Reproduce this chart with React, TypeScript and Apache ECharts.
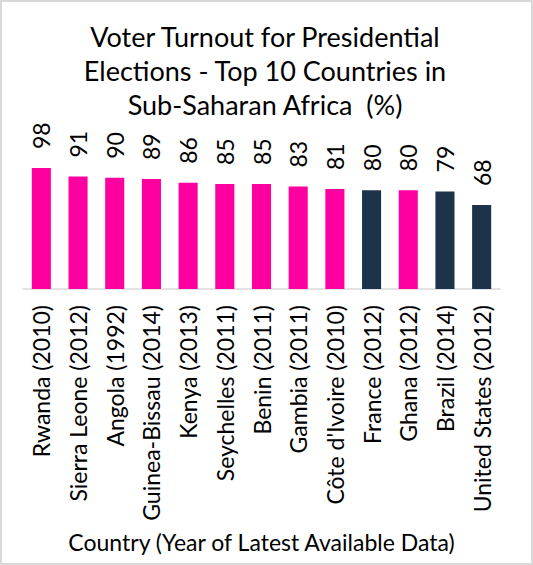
import React, { useEffect, useRef } from "react";
import * as echarts from "echarts";

const categories = [
  "Rwanda (2010)",
  "Sierra Leone (2012)",
  "Angola (1992)",
  "Guinea-Bissau (2014)",
  "Kenya (2013)",
  "Seychelles (2011)",
  "Benin (2011)",
  "Gambia (2011)",
  "Côte d'Ivoire (2010)",
  "France (2012)",
  "Ghana (2012)",
  "Brazil (2014)",
  "United States (2012)",
];
const turnout = [98, 91, 90, 89, 86, 85, 85, 83, 81, 80, 80, 79, 68];
const nonAfrican = ["France (2012)", "Brazil (2014)", "United States (2012)"];

const titleText = "Voter Turnout for Presidential\nElections - Top 10 Countries in\nSub-Saharan Africa  (%)";
const axisName = "Country (Year of Latest Available Data)";

const FONT = "Lato";

export default function App() {
  const ref = useRef<HTMLDivElement>(null);
  useEffect(() => {
    document.body.style.margin = "0";
    const chart = echarts.init(ref.current!, null, { renderer: "svg" });
    chart.setOption({
      animation: false,
      backgroundColor: "#ffffff",
      title: {
        text: titleText,
        left: 260,
        top: 14,
        textAlign: "center",
        textStyle: {
          fontFamily: FONT,
          fontSize: 27,
          fontWeight: "normal",
          color: "#000000",
          lineHeight: 34,
        },
      },
      graphic: [
        {
          type: "rect",
          shape: { x: 1, y: 1, width: 531, height: 563 },
          style: { fill: "none", stroke: "#d9d9d9", lineWidth: 2 },
          silent: true,
        },
      ],
      grid: { left: 23, right: 33, top: 165.5, bottom: 276, containLabel: false },
      xAxis: {
        type: "category",
        data: categories,
        name: axisName,
        nameLocation: "middle",
        nameGap: 241,
        nameTextStyle: { fontFamily: FONT, fontSize: 23, color: "#000000" },
        axisLine: { show: true, lineStyle: { color: "#d9d9d9", width: 1.5 } },
        axisTick: { show: false },
        axisLabel: {
          rotate: 90,
          interval: 0,
          margin: 16,
          fontFamily: FONT,
          fontSize: 23,
          color: "#000000",
        },
      },
      yAxis: {
        type: "value",
        min: 0,
        max: 100,
        show: false,
        splitLine: { show: false },
      },
      series: [
        {
          type: "bar",
          data: turnout.map((v, i) => ({
            value: v,
            itemStyle: { color: nonAfrican.includes(categories[i]) ? "#1d334a" : "#ff00a0" },
          })),
          barWidth: "52%",
          label: {
            show: true,
            position: "top",
            rotate: 90,
            align: "left",
            verticalAlign: "middle",
            distance: 19,
            fontFamily: FONT,
            fontSize: 23,
            color: "#000000",
          },
        },
      ],
    });
    return () => chart.dispose();
  }, []);
  return (
    <div
      ref={ref}
      style={{ position: "fixed", left: 0, top: 0, width: 533, height: 565 }}
    />
  );
}
